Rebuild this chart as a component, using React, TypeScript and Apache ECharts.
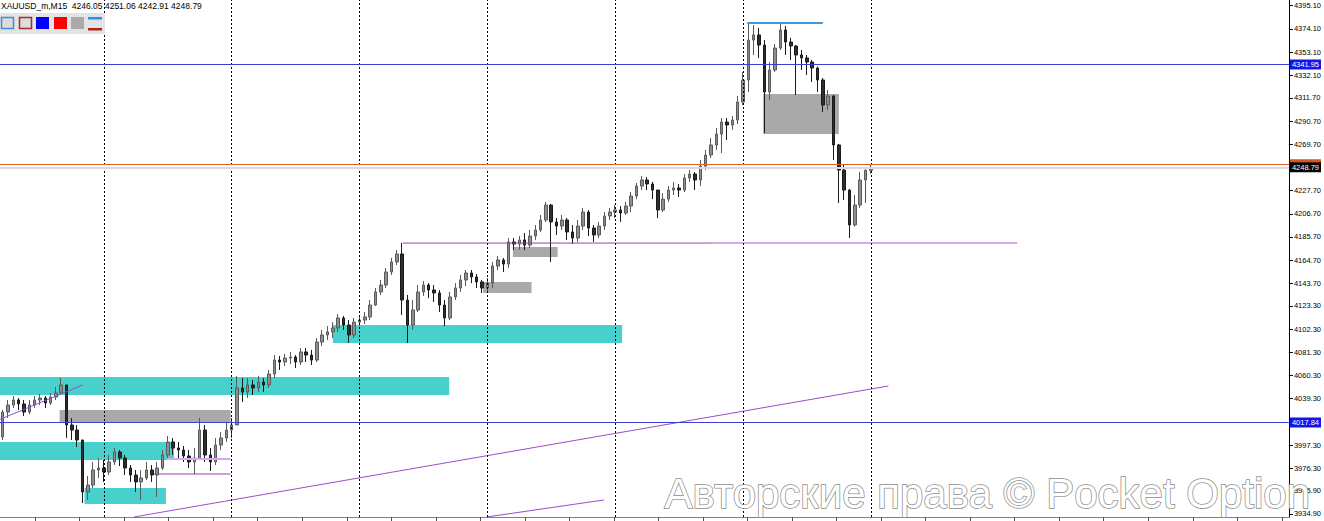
import React, { useEffect, useRef } from "react";
import * as echarts from "echarts";

// ---- Price data (XAUUSD M15) ----
const firstOpen = 4004.6;
const closes = [
  4027.2, 4033.6, 4038.1, 4034.5, 4027.2, 4033.6, 4038.1, 4039.9, 4035.4, 4040.8,
  4044.4, 4051.7, 4015.5, 4010.9, 4001.9, 3954.8, 3961.1, 3974.7, 3976.5, 3972.9,
  3982.0, 3991.0, 3985.6, 3976.5, 3970.2, 3963.9, 3967.5, 3974.7, 3970.2, 3976.5,
  3988.3, 4000.1, 3994.6, 3992.8, 3987.4, 3982.0, 3985.6, 4010.9, 3988.3, 3982.0,
  3997.4, 4003.7, 4010.9, 4015.5, 4049.0, 4045.3, 4051.7, 4049.0, 4054.4, 4051.7,
  4061.6, 4074.3, 4072.5, 4076.1, 4077.0, 4072.5, 4081.6, 4078.8, 4074.3, 4090.6,
  4097.0, 4099.7, 4103.3, 4112.4, 4106.0, 4097.0, 4108.7, 4110.5, 4113.3, 4124.1,
  4135.9, 4142.2, 4154.0, 4163.1, 4170.3, 4128.6, 4106.0, 4119.6, 4135.9, 4142.2,
  4137.7, 4135.0, 4124.1, 4112.4, 4131.4, 4139.5, 4146.8, 4153.1, 4149.5, 4145.0,
  4139.5, 4144.0, 4159.4, 4164.9, 4161.2, 4181.2, 4179.3, 4183.0, 4178.4, 4186.6,
  4192.0, 4201.1, 4214.6, 4199.3, 4195.6, 4201.1, 4190.2, 4184.8, 4195.6, 4208.3,
  4193.8, 4187.5, 4195.6, 4204.7, 4208.3, 4210.1, 4207.4, 4213.7, 4222.8, 4231.8,
  4237.3, 4233.7, 4228.2, 4210.1, 4220.0, 4228.2, 4230.1, 4228.2, 4239.1, 4242.7,
  4237.3, 4249.9, 4259.9, 4269.0, 4278.9, 4289.8, 4287.1, 4291.6, 4307.9, 4327.8,
  4364.0, 4368.6, 4359.5, 4317.0, 4336.9, 4356.8, 4373.1, 4362.2, 4358.6, 4350.5,
  4347.8, 4344.1, 4338.7, 4327.8, 4305.2, 4313.3, 4269.0, 4246.3, 4228.2, 4196.6,
  4214.6, 4237.3, 4246.05, 4248.79,
];
const highs = [
  4029.0, 4038.1, 4041.7, 4039.9, 4038.1, 4038.1, 4041.7, 4043.5, 4041.7, 4044.4,
  4049.9, 4058.0, 4052.0, 4021.8, 4015.5, 4001.9, 3969.3, 3982.0, 3985.6, 3983.8,
  3988.3, 3994.6, 3992.8, 3988.3, 3979.2, 3974.7, 3974.7, 3982.0, 3979.2, 3982.0,
  3992.8, 4005.5, 4003.7, 4000.1, 3996.5, 3992.8, 3994.6, 4021.8, 4015.5, 3994.6,
  4003.7, 4009.1, 4018.2, 4021.8, 4059.8, 4058.0, 4058.0, 4056.2, 4059.8, 4058.0,
  4065.3, 4078.8, 4077.9, 4079.8, 4081.6, 4078.8, 4085.2, 4085.2, 4083.4, 4094.2,
  4101.5, 4105.1, 4108.7, 4116.0, 4114.2, 4110.5, 4112.4, 4115.1, 4117.8, 4128.6,
  4139.5, 4146.8, 4157.6, 4166.7, 4173.9, 4180.2, 4133.2, 4128.6, 4142.2, 4145.8,
  4144.0, 4142.2, 4137.7, 4128.6, 4135.9, 4144.0, 4151.3, 4155.8, 4155.8, 4152.2,
  4146.8, 4148.5, 4163.1, 4168.5, 4166.7, 4184.8, 4184.8, 4186.6, 4189.3, 4192.0,
  4196.5, 4205.6, 4217.4, 4215.6, 4202.9, 4205.6, 4202.9, 4196.5, 4201.1, 4211.9,
  4210.1, 4196.5, 4199.3, 4208.3, 4211.9, 4214.6, 4213.7, 4217.4, 4226.4, 4234.6,
  4240.9, 4240.0, 4235.5, 4228.2, 4225.5, 4231.8, 4235.5, 4233.7, 4242.7, 4246.3,
  4244.5, 4255.4, 4264.5, 4275.3, 4284.4, 4293.4, 4293.4, 4295.2, 4313.3, 4335.1,
  4379.4, 4377.6, 4374.9, 4364.0, 4344.1, 4360.4, 4378.5, 4376.7, 4365.9, 4359.5,
  4355.0, 4350.5, 4345.9, 4340.0, 4329.6, 4318.8, 4314.2, 4270.0, 4250.9, 4229.0,
  4223.7, 4244.5, 4247.0, 4251.06,
];
const lows = [
  4001.9, 4021.8, 4030.9, 4029.0, 4023.6, 4025.4, 4030.9, 4033.6, 4030.9, 4033.6,
  4038.1, 4043.0, 4003.7, 4001.9, 3995.5, 3944.8, 3947.6, 3958.4, 3967.5, 3963.9,
  3970.2, 3979.2, 3978.3, 3970.2, 3963.9, 3954.8, 3947.6, 3965.7, 3963.9, 3950.3,
  3974.7, 3985.6, 3988.3, 3985.6, 3982.0, 3976.5, 3971.1, 3983.8, 3982.0, 3973.8,
  3979.2, 3992.8, 4000.1, 4003.7, 4015.5, 4036.3, 4039.9, 4042.6, 4045.3, 4045.3,
  4049.0, 4058.0, 4065.3, 4068.9, 4070.7, 4067.1, 4069.8, 4072.5, 4069.8, 4072.5,
  4087.0, 4092.4, 4094.2, 4099.7, 4101.5, 4089.7, 4094.2, 4105.1, 4106.9, 4110.5,
  4123.2, 4133.2, 4139.5, 4151.3, 4160.3, 4115.1, 4089.7, 4101.5, 4117.8, 4132.3,
  4130.4, 4126.8, 4117.8, 4105.1, 4110.5, 4128.6, 4135.9, 4141.3, 4144.0, 4139.5,
  4135.0, 4135.9, 4139.5, 4155.8, 4154.0, 4157.6, 4173.9, 4173.9, 4173.9, 4175.7,
  4183.0, 4190.2, 4199.3, 4163.1, 4187.5, 4192.0, 4183.0, 4179.3, 4181.2, 4192.0,
  4186.6, 4181.2, 4184.8, 4192.0, 4201.1, 4202.9, 4199.3, 4205.6, 4208.3, 4220.0,
  4228.2, 4228.2, 4220.0, 4202.9, 4208.3, 4217.4, 4223.7, 4221.9, 4226.4, 4235.5,
  4228.2, 4231.8, 4246.3, 4257.2, 4264.5, 4261.7, 4273.5, 4282.6, 4288.0, 4305.2,
  4317.0, 4350.5, 4347.8, 4279.8, 4309.7, 4335.1, 4355.0, 4350.5, 4345.9, 4314.2,
  4336.9, 4332.4, 4326.0, 4317.0, 4298.9, 4300.7, 4255.4, 4216.5, 4219.2, 4184.8,
  4195.0, 4212.0, 4216.5, 4242.91,
];

const SYMBOL = "XAUUSD_m,M15";
const TOTAL_SLOTS = 242; // bars + empty chart shift on the right
const Y_MIN = 3932.17;
const Y_MAX = 4400.26;
const yTicks = [
  4395.1, 4374.1, 4353.1, 4332.1, 4311.7, 4290.7, 4269.7, 4227.7, 4206.7, 4185.7,
  4164.7, 4143.7, 4123.3, 4102.3, 4081.3, 4060.3, 4039.3, 3997.3, 3976.3, 3955.9, 3934.9,
];
const separatorBars = [19, 43, 67, 91, 115, 139, 163];
const timeTickStart = 6.09;
const timeTickStep = 8.36;

// horizontal price levels
const blueLevels = [4341.95, 4017.84];
const orangeLevel = 4251.5;

// zones: [fromBar, toBar, topPrice, bottomPrice]
const cyanZones = [
  [-0.5, 83.84, 4058.9, 4042.6],
  [62.0, 116.3, 4106.0, 4089.7],
  [-0.5, 32.15, 4000.1, 3983.8],
  [15.36, 30.66, 3958.4, 3943.9],
];
const grayZones = [
  [10.7, 42.8, 4029.0, 4017.8],
  [142.8, 157.0, 4315.1, 4278.9],
  [90.2, 99.3, 4144.9, 4135.0],
  [95.8, 104.2, 4176.6, 4167.6],
];
// lines: [[bar, price], [bar, price]]
const trendLines = [
  [[-0.5, 4020.6], [15.04, 4051.7]],
  [[24.69, 3932.2], [166.3, 4050.8]],
  [[90.9, 3932.2], [112.9, 3947.6]],
];
const highLine = [[139.8, 4379.4], [154.0, 4379.4]];
const violetDark = [
  [[75.1, 4180.2], [133.0, 4180.2]],
  [[28.4, 3971.1], [42.8, 3971.1]],
];
const violetLight = [
  [[133.0, 4180.2], [190.5, 4180.2]],
  [[30.8, 3984.7], [42.8, 3984.7]],
];

export default function App() {
  const ref = useRef<HTMLDivElement>(null);

  useEffect(() => {
    if (!ref.current) return;
    const chart = echarts.init(ref.current, undefined, { renderer: "svg" });

    const categories = Array.from({ length: TOTAL_SLOTS }, (_, i) => "b" + i);
    const ohlc = closes.map((c, i) => [
      i === 0 ? firstOpen : closes[i - 1],
      c,
      lows[i],
      highs[i],
    ]);
    const last = ohlc[ohlc.length - 1];
    const header =
      SYMBOL + "  " + [last[0], last[3], last[2], last[1]].map((v) => v.toFixed(2)).join(" ");

    const timeTicks: number[] = [];
    for (let u = timeTickStart; u <= TOTAL_SLOTS - 0.5; u += timeTickStep) timeTicks.push(u);

    const lblFont = { fontSize: 7.5, fontFamily: "Liberation Sans" };

    const zoneSeries = (data: number[][], color: string) => ({
      type: "custom",
      xAxisIndex: 1,
      yAxisIndex: 0,
      z: 1,
      silent: true,
      clip: true,
      encode: { x: [0, 1], y: [2, 3] },
      data,
      renderItem: (params: any, api: any) => {
        const p0 = api.coord([api.value(0), api.value(2)]);
        const p1 = api.coord([api.value(1), api.value(3)]);
        return {
          type: "rect",
          shape: { x: p0[0], y: p0[1], width: p1[0] - p0[0], height: p1[1] - p0[1] },
          style: { fill: color },
        };
      },
    });

    const lineSeries = (pts: number[][], color: string, width: number) => ({
      type: "line",
      xAxisIndex: 1,
      yAxisIndex: 0,
      z: 4,
      silent: true,
      symbol: "none",
      clip: true,
      data: pts,
      lineStyle: { color, width },
    });

    const priceLabel = (bg: string) => ({
      show: true,
      position: "end",
      distance: 1,
      formatter: (p: any) => Number(p.value).toFixed(2),
      backgroundColor: bg,
      color: "#fff",
      padding: [1, 2, 1, 2],
      ...lblFont,
    });

    const option: any = {
      animation: false,
      backgroundColor: "#ffffff",
      grid: { left: 0, right: 27, top: 0, bottom: 4, containLabel: false },
      xAxis: [
        { type: "category", data: categories, show: false, boundaryGap: true, position: "bottom" },
        {
          type: "value",
          min: -0.5,
          max: TOTAL_SLOTS - 0.5,
          position: "bottom",
          axisLine: { show: true, onZero: false, lineStyle: { color: "#808080", width: 1 } },
          axisTick: { show: true, customValues: timeTicks, length: 4, lineStyle: { color: "#505050" } },
          axisLabel: { show: false },
          splitLine: { show: false },
        },
      ],
      yAxis: {
        type: "value",
        position: "right",
        min: Y_MIN,
        max: Y_MAX,
        axisLine: { show: true, onZero: false, lineStyle: { color: "#000", width: 1 } },
        axisTick: { show: true, customValues: yTicks, length: 4, lineStyle: { color: "#000" } },
        axisLabel: {
          show: true,
          customValues: yTicks,
          formatter: (v: number) => v.toFixed(2),
          color: "#000",
          margin: 5,
          ...lblFont,
        },
        splitLine: { show: false },
      },
      series: [
        zoneSeries(cyanZones, "#48d1cc"),
        zoneSeries(grayZones, "#a9a9a9"),
        {
          type: "candlestick",
          xAxisIndex: 0,
          yAxisIndex: 0,
          z: 3,
          barWidth: 3,
          data: ohlc,
          itemStyle: {
            color: "#8e8e8e",
            color0: "#2e2e2e",
            borderColor: "#5a5a5a",
            borderColor0: "#1a1a1a",
            borderWidth: 1,
          },
          markLine: {
            silent: true,
            symbol: ["none", "none"],
            animation: false,
            data: [
              ...separatorBars.map((b) => ({
                xAxis: categories[b],
                lineStyle: { color: "#000", width: 1, type: [2, 2] },
                label: { show: false },
              })),
              ...blueLevels.map((v) => ({
                yAxis: v,
                lineStyle: { color: "#3c3cd6", width: 1, type: "solid" },
                label: priceLabel("#1515e6"),
              })),
              {
                yAxis: orangeLevel,
                lineStyle: { color: "#e0622a", width: 1, type: "solid" },
                label: priceLabel("#e0521a"),
              },
              {
                yAxis: last[1],
                lineStyle: { color: "#dadada", width: 2, type: "solid" },
                label: priceLabel("#000000"),
              },
            ],
          },
        },
        ...trendLines.map((l) => lineSeries(l, "#9b4dca", 1)),
        lineSeries(highLine, "#3a9ae0", 2),
        ...violetDark.map((l) => lineSeries(l, "#9a3fb0", 1)),
        ...violetLight.map((l) => lineSeries(l, "#d8a8e8", 2)),
      ],
      graphic: [
        {
          type: "text",
          left: 1,
          top: 1,
          z: 100,
          style: { text: header, fill: "#000", font: '8.5px "Liberation Sans"' },
        },
        { type: "rect", z: 100, shape: { x: 0, y: 13, width: 105, height: 21 }, style: { fill: "#e4e4e4" } },
        { type: "rect", z: 101, shape: { x: 1.5, y: 17.5, width: 12, height: 11 }, style: { fill: "#dcdcdc", stroke: "#3a8de0", lineWidth: 1.5 } },
        { type: "rect", z: 101, shape: { x: 19.5, y: 17.5, width: 12, height: 11 }, style: { fill: "#dcdcdc", stroke: "#a52a2a", lineWidth: 1.5 } },
        { type: "rect", z: 101, shape: { x: 36, y: 17, width: 13, height: 12 }, style: { fill: "#0000ff" } },
        { type: "rect", z: 101, shape: { x: 54, y: 17, width: 13, height: 12 }, style: { fill: "#ff0000" } },
        { type: "rect", z: 101, shape: { x: 71, y: 17, width: 13, height: 12 }, style: { fill: "#a9a9a9" } },
        { type: "rect", z: 101, shape: { x: 88, y: 17, width: 14, height: 2.5 }, style: { fill: "#2a90ee" } },
        { type: "rect", z: 101, shape: { x: 88, y: 28, width: 14, height: 2.5 }, style: { fill: "#b02222" } },
        {
          type: "text",
          z: 100,
          x: 1310,
          y: 493,
          style: {
            text: "Авторские права © Pocket Option",
            font: '42px "Liberation Sans"',
            fill: "#ffffff",
            stroke: "#8c8c8c",
            lineWidth: 1.5,
            textAlign: "right",
            textVerticalAlign: "middle",
          },
        },
      ],
    };

    chart.setOption(option);
    return () => chart.dispose();
  }, []);

  return (
    <div
      ref={ref}
      style={{ position: "fixed", left: 0, top: 0, width: 1324, height: 521, background: "#fff" }}
    />
  );
}
